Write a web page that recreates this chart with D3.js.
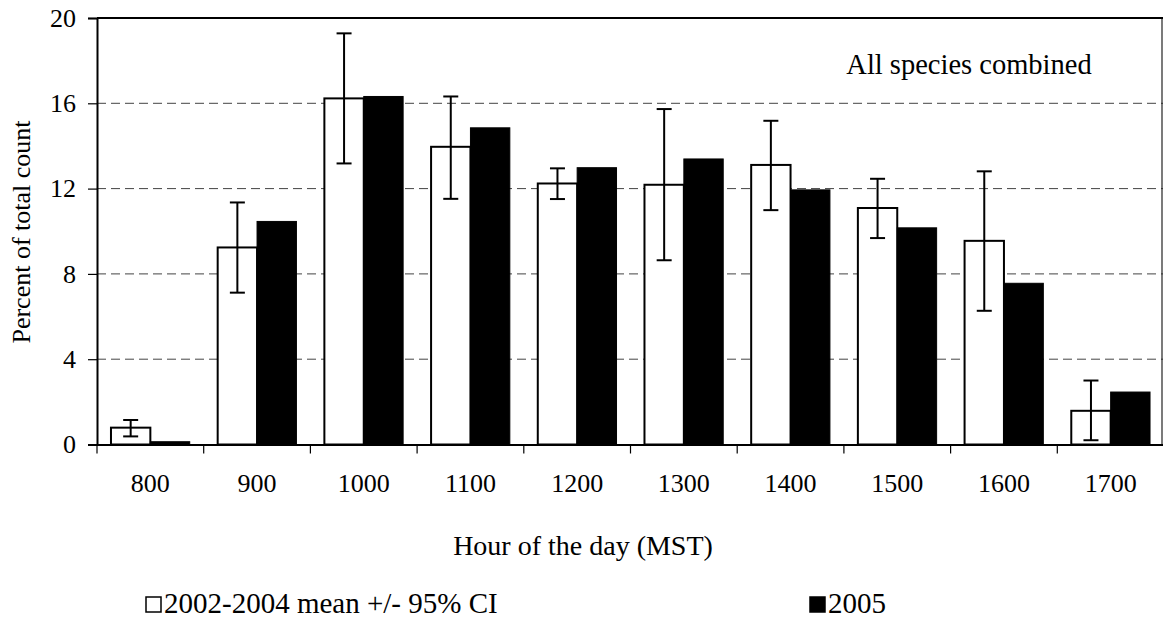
<!DOCTYPE html>
<html>
<head>
<meta charset="utf-8">
<script src="https://cdn.jsdelivr.net/npm/d3@7"></script>
<style>
  html, body { margin: 0; padding: 0; background: #fff; }
  svg { display: block; }
  text { font-family: "Liberation Serif", "Times New Roman", serif; fill: #000; }
</style>
</head>
<body>
<svg id="chart" width="1163" height="618"></svg>
<script>
// ---- data ----
const hours = ["800", "900", "1000", "1100", "1200", "1300", "1400", "1500", "1600", "1700"];
const mean0204 = [0.79, 9.24, 16.23, 13.96, 12.24, 12.18, 13.11, 11.09, 9.55, 1.58];
const ciLow = [0.38, 7.12, 13.18, 11.52, 11.51, 8.64, 10.99, 9.68, 6.27, 0.2];
const ciHigh = [1.15, 11.35, 19.28, 16.32, 12.95, 15.73, 15.18, 12.46, 12.81, 3.0];
const y2005 = [0.13, 10.46, 16.32, 14.85, 12.98, 13.39, 11.94, 10.16, 7.56, 2.46];
const yTicks = [0, 4, 8, 12, 16, 20];
const seriesNames = ["2002-2004 mean +/- 95% CI", "2005"];

// ---- layout ----
const svg = d3.select("#chart");
const pLeft = 97, pRight = 1164, pTop = 18, pBottom = 444.5;

const x = d3.scaleBand().domain(hours).range([pLeft, pRight]).paddingInner(0.262).paddingOuter(0.131);
const xEdge = d3.scaleBand().domain(hours).range([pLeft, pRight]).padding(0);
const x1 = d3.scaleBand().domain(seriesNames).range([0, x.bandwidth()]);
const y = d3.scaleLinear().domain([0, 20]).range([pBottom, pTop]);

// gridlines (dashed)
svg.append("g").selectAll("line").data(yTicks.filter(d => d > 0 && d < 20)).join("line")
  .attr("x1", pLeft).attr("x2", pRight).attr("y1", d => y(d)).attr("y2", d => y(d))
  .attr("stroke", "#444").attr("stroke-width", 1).attr("stroke-dasharray", "9,5");

// right border
svg.append("line").attr("x1", 1162).attr("x2", 1162).attr("y1", pTop).attr("y2", pBottom)
  .attr("stroke", "#222").attr("stroke-width", 1.2);

// bars
const rows = hours.map((h, i) => ({h, m: mean0204[i], lo: ciLow[i], hi: ciHigh[i], b: y2005[i]}));
const g = svg.append("g");
g.selectAll("rect.w").data(rows).join("rect").attr("class", "w")
  .attr("x", d => x(d.h) + x1(seriesNames[0]))
  .attr("y", d => y(d.m))
  .attr("width", x1.bandwidth())
  .attr("height", d => y(0) - y(d.m))
  .attr("fill", "#fff").attr("stroke", "#000").attr("stroke-width", 2);
g.selectAll("rect.b").data(rows).join("rect").attr("class", "b")
  .attr("x", d => x(d.h) + x1(seriesNames[1]))
  .attr("y", d => y(d.b))
  .attr("width", x1.bandwidth())
  .attr("height", d => y(0) - y(d.b))
  .attr("fill", "#000").attr("stroke", "#000").attr("stroke-width", 1);

// error bars
const eb = svg.append("g").attr("stroke", "#000").attr("stroke-width", 2);
const cx = d => x(d.h) + x1(seriesNames[0]) + x1.bandwidth() / 2;
eb.selectAll("line.v").data(rows).join("line").attr("class", "v")
  .attr("x1", cx).attr("x2", cx).attr("y1", d => y(d.lo)).attr("y2", d => y(d.hi));
eb.selectAll("line.t").data(rows).join("line").attr("class", "t")
  .attr("x1", d => cx(d) - 7.5).attr("x2", d => cx(d) + 7.5).attr("y1", d => y(d.hi)).attr("y2", d => y(d.hi));
eb.selectAll("line.l").data(rows).join("line").attr("class", "l")
  .attr("x1", d => cx(d) - 7.5).attr("x2", d => cx(d) + 7.5).attr("y1", d => y(d.lo)).attr("y2", d => y(d.lo));

// top border
svg.append("line").attr("x1", pLeft).attr("x2", pRight).attr("y1", pTop).attr("y2", pTop)
  .attr("stroke", "#000").attr("stroke-width", 2);

// y axis
const yAxis = svg.append("g").attr("transform", `translate(${pLeft},0)`)
  .call(d3.axisLeft(y).tickValues(yTicks).tickSize(9).tickPadding(12).tickFormat(d3.format("d")));
yAxis.select(".domain").attr("stroke", "#000").attr("stroke-width", 2);
yAxis.selectAll(".tick line").attr("stroke", "#000").attr("stroke-width", 1.2);
yAxis.selectAll("text").attr("font-size", 26).attr("font-family", "Liberation Serif");

// x axis
const xAxis = svg.append("g").attr("transform", `translate(0,${pBottom})`)
  .call(d3.axisBottom(xEdge).tickSize(0).tickPadding(29));
xAxis.select(".domain").attr("stroke", "#000").attr("stroke-width", 2);
xAxis.selectAll("text").attr("font-size", 26).attr("font-family", "Liberation Serif");
xAxis.selectAll("line.edge").data(hours.map(h => xEdge(h))).join("line").attr("class", "edge")
  .attr("x1", d => d).attr("x2", d => d).attr("y1", 0).attr("y2", 9)
  .attr("stroke", "#000").attr("stroke-width", 1.2);

// annotation
svg.append("text").attr("x", 969).attr("y", 74).attr("text-anchor", "middle")
  .attr("font-size", 28.5).text("All species combined");

// axis titles
svg.append("text").attr("transform", "translate(30,232) rotate(-90)").attr("text-anchor", "middle")
  .attr("font-size", 26).text("Percent of total count");
svg.append("text").attr("x", 583).attr("y", 555).attr("text-anchor", "middle")
  .attr("font-size", 28).text("Hour of the day (MST)");

// legend
const legend = [
  {name: seriesNames[0], fill: "#fff", x: 146},
  {name: seriesNames[1], fill: "#000", x: 810}
];
const lg = svg.append("g");
lg.selectAll("rect").data(legend).join("rect")
  .attr("x", d => d.x).attr("y", 597).attr("width", 15).attr("height", 15)
  .attr("fill", d => d.fill).attr("stroke", "#000").attr("stroke-width", 1.5);
lg.selectAll("text").data(legend).join("text")
  .attr("x", d => d.x + 18).attr("y", 613).attr("font-size", 29).text(d => d.name);
</script>
</body>
</html>
